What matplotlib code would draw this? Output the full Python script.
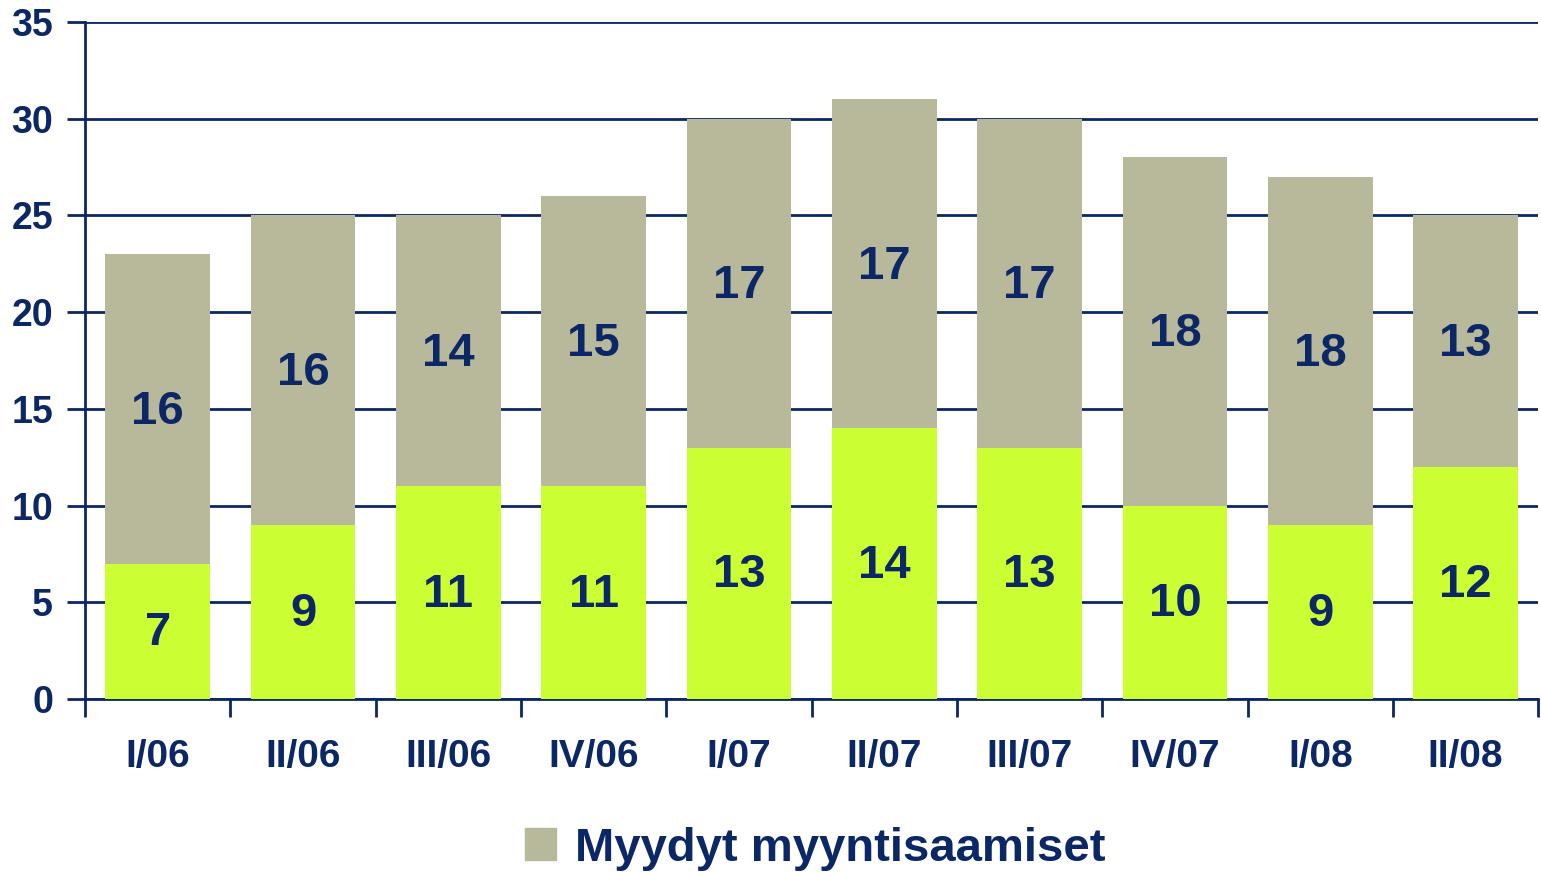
import matplotlib
matplotlib.use('Agg')
import matplotlib.pyplot as plt
import matplotlib.patches as mpatches
import numpy as np

plt.rcParams['font.family'] = ['Liberation Sans', 'DejaVu Sans']
plt.rcParams['font.weight'] = 'bold'

quarters = ['I/06', 'II/06', 'III/06', 'IV/06', 'I/07', 'II/07', 'III/07', 'IV/07', 'I/08', 'II/08']
lower = [7, 9, 11, 11, 13, 14, 13, 10, 9, 12]
myydyt = [16, 16, 14, 15, 17, 17, 17, 18, 18, 13]
legend_label = 'Myydyt myyntisaamiset'

navy = '#0B2766'
green = '#CCFF33'
grey = '#B8B89A'

fig = plt.figure(figsize=(15.41, 8.73), dpi=100)
ax = fig.add_axes([0.0552, 0.1993, 0.943, 0.7755])

x = np.arange(len(quarters))
ax.bar(x, lower, width=0.72, color=green, zorder=3)
ax.bar(x, myydyt, bottom=lower, width=0.72, color=grey, zorder=3)

# value labels in the middle of each segment
for i in range(len(quarters)):
    ax.text(x[i], lower[i] / 2 - 0.1, str(lower[i]), ha='center', va='center',
            fontsize=34, color=navy, fontweight='bold', zorder=4)
    ax.text(x[i], lower[i] + myydyt[i] / 2 - 0.15, str(myydyt[i]), ha='center', va='center',
            fontsize=34, color=navy, fontweight='bold', zorder=4)

ax.set_xlim(-0.5, len(quarters) - 0.5)
ax.set_ylim(0, 35)
ax.set_yticks(np.arange(0, 36, 5))
ax.yaxis.grid(True, color=navy, linewidth=2, zorder=1)
ax.set_axisbelow(True)

ax.set_xticks(x)
ax.set_xticklabels(quarters)
ax.set_xticks(np.arange(-0.5, len(quarters), 1), minor=True)
ax.tick_params(axis='x', which='major', length=0, pad=29, labelsize=28, labelcolor=navy)
ax.tick_params(axis='x', which='minor', length=13, width=2, color=navy, direction='out')
ax.tick_params(axis='y', length=13, width=2, color=navy, pad=10, labelsize=27, labelcolor=navy)

for s in ['top', 'right']:
    ax.spines[s].set_visible(False)
for s in ['left', 'bottom']:
    ax.spines[s].set_color(navy)
    ax.spines[s].set_linewidth(2)

handle = mpatches.Patch(color=grey, label=legend_label)
fig.legend(handles=[handle], loc='center', bbox_to_anchor=(0.529, 0.028), frameon=False,
           prop={'size': 34, 'weight': 'bold'}, labelcolor=navy,
           handlelength=0.65, handleheight=0.65, handletextpad=0.4)

plt.savefig('out.png', dpi=100)
